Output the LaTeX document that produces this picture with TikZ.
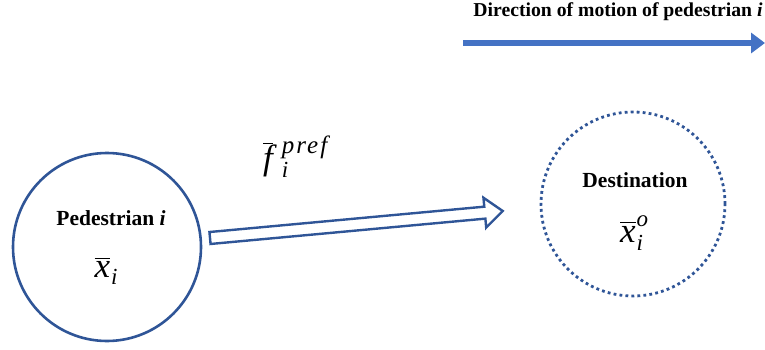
\documentclass[tikz,border=0pt]{standalone}
\usepackage{fontspec}
\setmainfont{Liberation Serif}
\usetikzlibrary{arrows.meta,calc}
\definecolor{cdark}{RGB}{47,85,151}
\definecolor{clight}{RGB}{68,114,196}
\newcommand{\bigvar}{\fontsize{35}{38}\selectfont}
\newcommand{\smallvar}{\fontsize{23}{26}\selectfont}
\newcommand{\barvar}[1]{$\overline{\hbox{\rule{0pt}{18pt}#1}}$}
\newcommand{\supsub}[2]{\rlap{\raisebox{16pt}{\smallvar #1}}\raisebox{-8pt}{\smallvar #2}}
\tikzset{
  lbl/.style={font=\bfseries\fontsize{21.5}{24}\selectfont, inner sep=0},
  mth/.style={font=\itshape\bigvar, inner sep=0},
  solidcirc/.style={circle, draw=cdark, line width=2.6pt, minimum size=188pt, inner sep=0},
  dotcirc/.style={circle, draw=cdark, line width=2.8pt, dash pattern=on 2.8pt off 3.2pt, minimum size=184pt, inner sep=0},
  hollow/.style={draw=cdark, line width=2.4pt, fill=white, line join=miter},
}
\begin{document}
\begin{tikzpicture}[x=1pt,y=1pt]
\useasboundingbox (0,0) rectangle (765,349);
% circles
\node[solidcirc] (ped) at (107,102) {};
\node[dotcirc] (dest) at (633,145) {};
\node[lbl] (pedlbl) at (111,131) {Pedestrian \textit{i}};
\node[mth] (pedx) at (106,78) {\barvar{x}\raisebox{-7pt}{\smallvar\kern1pt i}};
\node[lbl] (destlbl) at (635,169) {Destination};
\node[mth, anchor=base west] (destx) at (620,107) {\barvar{x}\supsub{\kern1pt o}{\kern1pt i}};
% hollow arrow
\coordinate (ta) at (210,111);
\coordinate (tb) at (503,138);
\begin{scope}[shift={(ta)}, rotate=5.27]
  \draw[hollow] (0,-6) -- (276,-6) -- (276,-15) -- (294,0) -- (276,15) -- (276,6) -- (0,6) -- cycle;
\end{scope}
\node[mth, anchor=base west] (flbl) at (263,180) {\barvar{f}\kern9pt\supsub{\fontsize{25}{28}\selectfont\addfontfeatures{LetterSpace=8}pref}{i}};
% direction arrow
\coordinate (da) at (463,306);
\coordinate (db) at (765,306);
\draw[clight, line width=6pt, -{Triangle[length=14pt,width=20pt]}] (da) -- (db);
\node[font=\bfseries\fontsize{19.7}{22}\selectfont, inner sep=0] (dirlbl) at (618,337) {Direction of motion of pedestrian \textit{i}};
\end{tikzpicture}
\end{document}
